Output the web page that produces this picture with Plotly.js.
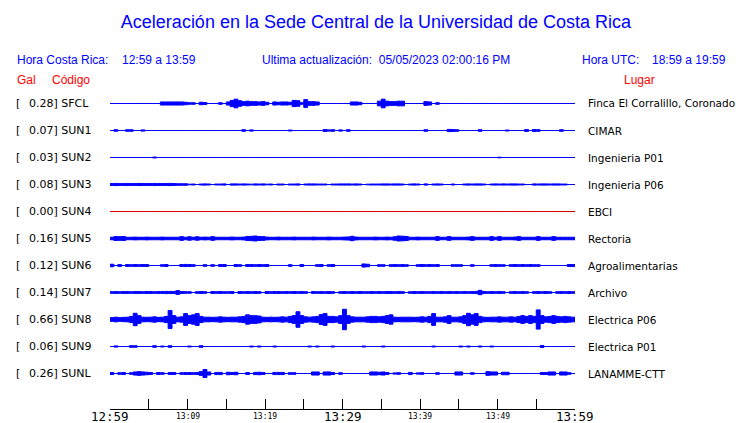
<!DOCTYPE html>
<html><head><meta charset="utf-8">
<script src="https://cdn.plot.ly/plotly-3.0.1.min.js"></script>
<style>body{margin:0;background:#fff}#chart{width:740px;height:423px}</style>
</head><body><div id="chart"></div>
<script>
// ---- data ----
const codes  = ['SFCL','SUN1','SUN2','SUN3','SUN4','SUN5','SUN6','SUN7','SUN8','SUN9','SUNL'];
const places = ['Finca El Corralillo, Coronado','CIMAR','Ingenieria P01','Ingenieria P06','EBCI','Rectoria','Agroalimentarias','Archivo','Electrica P06','Electrica P01','LANAMME-CTT'];
const peaks  = ['0.28','0.07','0.03','0.08','0.00','0.16','0.12','0.14','0.66','0.06','0.26'];
const tickMinutes = [0,5,10,15,20,25,30,35,40,45,50,55,60];
const tickLabels  = ['12:59','','13:09','','13:19','','13:29','','13:39','','13:49','','13:59'];
const majorTick   = [true,false,false,false,false,false,true,false,false,false,false,false,true];
const binMinutes = 0.5; // envelope samples every 30 s, 120 per hour

// envelope amplitude (Gal) per 30-s bin
const ampSFCL = [0,0,0,0,0,0,0,0,0,0, 0,0,0,.1,.1,.1,.1,.1,.1,.08, .05,.05,0,.08,.06,0,0,0,.05,0,
 .1,.2,.28,.18,.12,.15,.12,.12,.1,.12, .08,0,.1,.08,.1,.1,.08,.2,.18,.05, .25,.12,.12,.1,0,0,0,0,0,0,
 0,0,.1,.1,.08,0,0,0,0,.15, .28,.15,.12,.12,.15,.15,0,0,0,0, 0,.12,.1,0,.05,0,0,0,0,0,
 0,0,0,0,0,0,0,0,0,0, 0,0,0,0,0,0,0,0,0,0, 0,0,0,0,0,0,0,0,0,0];
const ampSUN1 = [0,.05,0,0,.05,.05,0,0,.04,0, 0,0,0,0,0,0,0,0,0,0, 0,0,0,0,0,0,0,0,0,0,
 0,0,0,0,.05,0,.04,0,0,0, 0,0,0,0,0,0,.03,0,0,0, 0,0,0,0,0,.06,.04,.05,0,.04,
 0,.05,0,0,0,0,0,0,0,0, 0,0,0,0,0,0,0,0,0,0, 0,.05,0,0,0,0,0,.07,.06,.05,
 0,0,0,0,0,.05,0,0,0,0, 0,0,.03,0,0,0,0,.06,0,.06, .05,0,0,0,0,0,.05,0,0,0];
const ampSUN2 = [0,0,0,0,0,0,0,0,0,0, 0,.03,0,0,0,0,0,0,0,0, 0,0,0,0,0,0,0,0,0,0,
 0,0,0,0,0,0,0,0,0,0, 0,0,0,0,0,0,0,0,0,0, 0,0,0,0,0,0,0,0,0,0,
 0,0,0,0,0,0,0,0,0,0, 0,0,0,0,0,0,0,0,0,0, 0,0,0,0,0,0,0,0,0,0,
 0,0,0,0,0,0,0,0,0,0, .02,0,0,0,0,0,0,0,0,0, 0,0,0,0,0,0,0,0,0,0];
const ampSUN3 = [.06,.07,.06,.06,.07,.06,.06,.07,.06,.06, .06,.07,.06,.06,.06,.07,.06,.05,.05,.05, .02,.03,0,.03,.04,.03,0,.03,.03,.04,
 0,.04,.04,.03,.04,.03,.02,.04,.03,.04, .02,.03,0,.03,.03,0,.03,.03,.04,0, .03,.04,.04,.03,.03,.03,0,.03,.03,.04,
 .04,.04,.03,.04,.03,0,.02,.03,.03,.03, .04,.04,.03,.04,.04,.03,0,.03,.04,.03, 0,.04,0,.03,.04,.03,0,0,.03,0,
 0,.03,.04,.03,.04,.04,.03,0,.03,.04, .03,.04,.03,.04,.04,.03,.03,0,0,.04, .03,.04,.04,.03,.04,.04,.03,.03,0,0];
const ampSUN4 = [0,0,0,0,0,0,0,0,0,0, 0,0,0,0,0,0,0,0,0,0, 0,0,0,0,0,0,0,0,0,0,
 0,0,0,0,0,0,0,0,0,0, 0,0,0,0,0,0,0,0,0,0, 0,0,0,0,0,0,0,0,0,0,
 0,0,0,0,0,0,0,0,0,0, 0,0,0,0,0,0,0,0,0,0, 0,0,0,0,0,0,0,0,0,0,
 0,0,0,0,0,0,0,0,0,0, 0,0,0,0,0,0,0,0,0,0, 0,0,0,0,0,0,0,0,0,0];
const ampSUN5 = [.08,.13,.12,.13,.08,.08,.09,.08,.08,.09, .08,.08,.08,.09,.08,.08,.08,.08,.12,.08, .11,.08,.11,.08,.09,.08,.12,.08,.08,.08,
 .08,.09,.08,.08,.09,.13,.14,.16,.13,.12, .09,.08,.08,.09,.08,.08,.08,.09,.08,.08, .08,.08,.09,.08,.08,.08,.09,.08,.08,.08,
 .09,.1,.14,.09,.08,.08,.08,.08,.09,.08, .08,.09,.08,.11,.16,.15,.13,.08,.08,.09, .08,.08,.08,.08,.12,.08,.08,.12,.08,.08,
 .08,.08,.09,.12,.08,.08,.08,.08,.12,.08, .12,.08,.08,.08,.09,.12,.08,.08,.08,.08, .12,.08,.08,.08,.12,.08,.08,.08,.08,.08];
const ampSUN6 = [.08,0,.06,0,.06,.05,.06,.05,.06,.06, 0,0,0,.05,.06,0,0,0,.06,.07, .06,.05,0,0,.05,0,.05,0,.06,.06,
 0,0,.06,.05,0,.06,.06,.05,.06,.05, .06,0,0,0,0,0,.05,0,0,.06, 0,0,0,.05,.06,0,.05,.06,0,0,
 0,0,0,0,0,.1,.08,0,0,.05, .05,0,.05,.06,.05,.06,.05,0,0,.05, .06,.05,.06,.05,.06,0,0,0,.05,.05,
 .05,0,0,.05,0,0,0,0,.05,.06, .05,.05,0,.05,.06,.05,.06,.05,.06,.05, .05,0,0,0,0,0,0,0,.06,.06];
const ampSUN7 = [.05,.06,.05,.06,.06,.05,.06,.06,.05,.06, .06,.05,.06,.06,.07,.06,.07,.12,.06,.05, .05,0,.05,.06,.05,0,.06,.05,.06,.05,
 .05,.06,0,.06,.05,.06,.05,.06,.05,0, .06,.05,.06,.06,.05,.06,.05,.06,.05,.06, .05,0,.06,.05,.06,.05,.06,.05,0,.05,
 .06,.05,.06,.05,.06,.05,.05,.06,.05,.06, .05,.06,.06,.05,.06,.05,0,.05,.06,.05, .06,.05,.05,.06,.05,.06,.05,.06,.05,.06,
 .05,.06,.05,.06,.07,.14,.06,.05,.06,.05, .06,.05,0,.05,.06,.05,.06,.05,0,.05, .06,.05,.06,.05,0,.05,.06,.05,.06,.05];
const ampSUN8 = [.12,.15,.12,.14,.15,.2,.4,.25,.15,.14, .15,.17,.14,.15,.2,.58,.25,.15,.17,.38, .25,.3,.38,.2,.15,.15,.14,.15,.17,.15,
 .14,.15,.15,.17,.2,.3,.25,.25,.22,.15, .14,.15,.14,.15,.17,.15,.2,.25,.5,.25, .17,.15,.17,.2,.32,.38,.2,.2,.17,.25,
 .66,.25,.17,.15,.15,.15,.17,.2,.2,.17, .2,.25,.3,.15,.14,.15,.15,.15,.14,.15, .17,.15,.2,.38,.15,.15,.17,.25,.15,.15,
 .17,.25,.4,.3,.38,.2,.15,.14,.15,.15, .17,.15,.15,.17,.15,.2,.25,.2,.25,.2, .62,.25,.17,.2,.25,.2,.17,.2,.17,.15];
const ampSUN9 = [0,.04,0,0,0,.05,.05,0,0,0, 0,.05,0,.03,0,.05,0,0,0,0, .03,0,0,.05,0,0,0,0,0,0,
 0,0,0,0,0,0,.03,0,.03,0, 0,0,.03,0,0,0,0,0,0,0, 0,.03,0,.03,0,0,0,.03,0,0,
 0,0,0,0,0,.03,0,0,0,0, .03,0,0,0,0,0,0,0,0,0, 0,0,0,.03,0,0,0,0,0,0,
 .03,0,.03,0,0,.03,0,0,.03,0, 0,0,0,0,0,0,0,0,0,0, 0,.06,0,0,0,0,0,0,0,0];
const ampSUNL = [.06,0,.05,.06,0,.05,.1,.12,.1,.08, .06,0,.06,.05,0,.06,.06,0,.05,.06, .06,.05,.06,.12,.26,.1,0,.07,.07,0,
 .08,.06,.08,0,0,.06,0,.07,.08,.06, 0,0,.07,.07,.07,0,.05,.05,0,0, 0,0,.1,.1,0,.1,.1,.06,0,.05,
 0,0,0,0,0,0,0,.1,.1,.08, .1,.06,0,.04,.05,0,0,.07,0,.04, .05,0,0,0,.05,0,0,0,0,.1,
 .1,0,0,.05,0,0,0,.12,.1,.1, 0,.08,.08,0,0,0,0,0,0,0, 0,.06,.06,.1,.1,0,.1,.1,.05,0];
const amplitudes = [ampSFCL,ampSUN1,ampSUN2,ampSUN3,ampSUN4,ampSUN5,ampSUN6,ampSUN7,ampSUN8,ampSUN9,ampSUNL];
const traceColors = ['#0000ff','#0000ff','#0000ff','#0000ff','#d40000','#0000ff','#0000ff','#0000ff','#0000ff','#0000ff','#0000ff'];

// ---- layout geometry ----
const W = 740, H = 423;
const L = 110, R = 575, T = 76, B = 409;
const pxPerGal = 15.5, rowPx = 27, firstRowPx = 103.5;
const spacing = rowPx / pxPerGal;
const yTop = (firstRowPx - T) / pxPerGal;
const yBot = -(B - firstRowPx) / pxPerGal;
const px2paperX = px => (px - L) / (R - L);
const py2paperY = py => (B - py) / (B - T);

const traces = [];
const annotations = [];
codes.forEach((code, k) => {
  const off = -k * spacing;
  const amp = amplitudes[k];
  // stepped envelope outline: upper edge left->right, lower edge right->left
  const ex = [], ey = [];
  amp.forEach((a,i) => { ex.push(i*binMinutes, (i+1)*binMinutes); ey.push(off + a, off + a); });
  for (let i = amp.length - 1; i >= 0; i--) {
    ex.push((i+1)*binMinutes, i*binMinutes); ey.push(off - amp[i], off - amp[i]);
  }
  traces.push({type:'scatter', mode:'lines', x:ex, y:ey, fill:'toself',
    fillcolor:traceColors[k], line:{color:traceColors[k], width:1, simplify:false},
    hoverinfo:'skip', showlegend:false});
  const yp = py2paperY(firstRowPx + k*rowPx);
  annotations.push({xref:'paper', yref:'paper', x:px2paperX(14), y:yp, xanchor:'left', yanchor:'middle',
    text:'[', showarrow:false, font:{family:'DejaVu Sans', size:11, color:'#000'}});
  annotations.push({xref:'paper', yref:'paper', x:px2paperX(27), y:yp, xanchor:'left', yanchor:'middle',
    text:peaks[k] + '] ' + code, showarrow:false, font:{family:'DejaVu Sans', size:11, color:'#000'}});
  annotations.push({xref:'paper', yref:'paper', x:px2paperX(586), y:yp, xanchor:'left', yanchor:'middle',
    text:places[k], showarrow:false, font:{family:'DejaVu Sans', size:10.5, color:'#000'}});
});

const hdr = (txt, px, py, color, size) => ({xref:'paper', yref:'paper', x:px2paperX(px), y:py2paperY(py),
  xanchor:'left', yanchor:'middle', text:txt, showarrow:false,
  font:{family:'Liberation Sans, Arial, sans-serif', size:size, color:color}});
annotations.push(hdr('Hora Costa Rica:', 15, 60, '#0000ff', 12));
annotations.push(hdr('12:59 a 13:59', 120, 60, '#0000ff', 12));
annotations.push(hdr('Ultima actualización:&nbsp;&nbsp;05/05/2023 02:00:16 PM', 260, 60, '#0000ff', 12));
annotations.push(hdr('Hora UTC:', 580, 60, '#0000ff', 12));
annotations.push(hdr('18:59 a 19:59', 650, 60, '#0000ff', 12));
annotations.push(hdr('Gal', 15, 80, '#ff0000', 12));
annotations.push(hdr('Código', 50, 80, '#ff0000', 12));
annotations.push(hdr('Lugar', 622, 80, '#ff0000', 12));

// time labels under the axis (two sizes, as in the reference)
tickMinutes.forEach((m,i) => {
  if (!tickLabels[i]) return;
  annotations.push({xref:'x', yref:'paper', x:m, y:py2paperY(416), xanchor:'center', yanchor:'middle',
    text:tickLabels[i], showarrow:false,
    font:{family:'DejaVu Sans Mono', size: majorTick[i] ? 12.5 : 8, color:'#000'}});
});

const layout = {
  width: W, height: H,
  margin:{l:L, r:W-R, t:T, b:H-B, pad:0},
  paper_bgcolor:'#fff', plot_bgcolor:'#fff',
  title:{text:'Aceleración en la Sede Central de la Universidad de Costa Rica',
    font:{family:'Liberation Sans, Arial, sans-serif', size:18, color:'#0000ff'},
    xref:'paper', x:px2paperX(376), xanchor:'center', yref:'container', y:1-22/H, yanchor:'middle'},
  showlegend:false,
  xaxis:{range:[0,60], tickvals:tickMinutes, showticklabels:false, ticks:'inside', ticklen:10,
    tickcolor:'#000', tickwidth:1, showline:true, linecolor:'#000', linewidth:1.2,
    showgrid:false, zeroline:false, automargin:false, fixedrange:true},
  yaxis:{range:[yBot,yTop], visible:false, showgrid:false, zeroline:false, fixedrange:true},
  annotations: annotations
};
Plotly.newPlot('chart', traces, layout, {staticPlot:true, displayModeBar:false});
</script></body></html>
